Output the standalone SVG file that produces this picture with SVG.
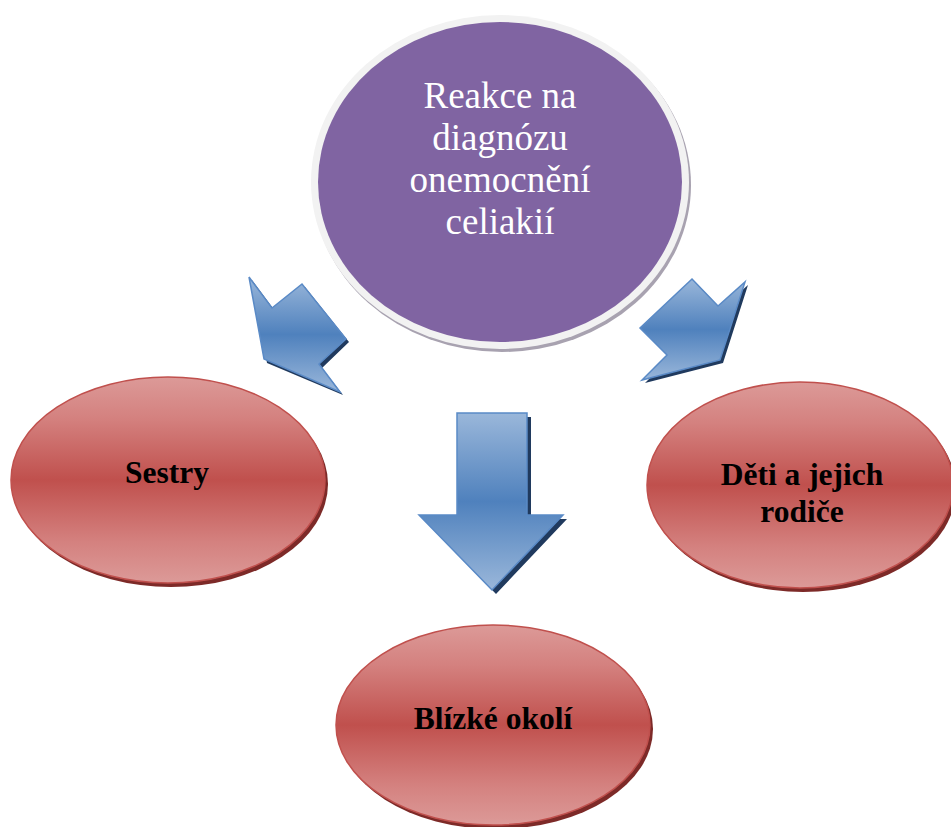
<svg xmlns="http://www.w3.org/2000/svg" width="951" height="827" viewBox="0 0 951 827">
  <style>
    .title { font-family: "Liberation Serif", "Times New Roman", serif; font-size: 37px; fill: #ffffff; text-anchor: middle; }
    .label { font-family: "Liberation Serif", "Times New Roman", serif; font-size: 31.5px; font-weight: bold; fill: #000000; text-anchor: middle; }
    .ell { fill: url(#redGrad); stroke: #c0504d; stroke-width: 1.5; }
    .ellShadow { fill: #7d2a28; }
    .arrow { fill: url(#blueGrad); stroke: #5a8ac6; stroke-width: 1.5; stroke-linejoin: miter; }
    .arrowShadow { fill: #203a5e; }
  </style>
  <defs>
    <linearGradient id="redGrad" x1="0" y1="0" x2="0" y2="1">
      <stop offset="0" stop-color="#dc9a98"/>
      <stop offset="0.2" stop-color="#d4817f"/>
      <stop offset="0.5" stop-color="#c0504d"/>
      <stop offset="0.8" stop-color="#d4817f"/>
      <stop offset="1" stop-color="#dc9a98"/>
    </linearGradient>
    <linearGradient id="blueGrad" x1="0" y1="0" x2="0" y2="1">
      <stop offset="0" stop-color="#9ab7da"/>
      <stop offset="0.5" stop-color="#4f81bd"/>
      <stop offset="1" stop-color="#9ab7da"/>
    </linearGradient>
    <linearGradient id="blueGradDown" x1="0" y1="0" x2="0" y2="1">
      <stop offset="0" stop-color="#9ab7da"/>
      <stop offset="0.5" stop-color="#4f81bd"/>
      <stop offset="1" stop-color="#9ab7da"/>
    </linearGradient>
  </defs>

  <!-- connectors: block arrows from the centre circle to the three groups -->
  <g id="connectors">
    <g id="arrow-left">
      <polygon class="arrowShadow" points="252,280 275,311 305,287 349,342 322,368 343,395 267,363"/>
      <polygon class="arrow" points="249,277 272,308 302,284 346,339 319,364 340,392 264,359"/>
    </g>
    <g id="arrow-right">
      <polygon class="arrowShadow" points="695,282 721,309 748,285 723,363 645,383 670,358 643,331"/>
      <polygon class="arrow" points="692,279 718,306 745,282 720,360 642,380 667,355 640,328"/>
    </g>
    <g id="arrow-down">
      <polygon class="arrowShadow" points="461,417 531,417 531,519 567,519 496,594 423,519 461,519"/>
      <polygon class="arrow" style="fill:url(#blueGradDown)" points="457,413 527,413 527,515 563,515 492,590 419,515 457,515"/>
    </g>
  </g>

  <!-- centre topic -->
  <g id="node-center">
    <ellipse cx="502" cy="185" rx="189" ry="167" fill="#a8a2b0"/>
    <ellipse cx="500" cy="182" rx="189" ry="167" fill="#f2f2f2"/>
    <ellipse cx="500" cy="182" rx="182" ry="160" fill="#8064a2"/>
    <text class="title" x="500" y="108">Reakce na</text>
    <text class="title" x="500" y="150">diagnózu</text>
    <text class="title" x="500" y="192">onemocnění</text>
    <text class="title" x="500" y="234">celiakií</text>
  </g>

  <g id="node-sestry">
    <ellipse class="ellShadow" cx="171" cy="484" rx="157" ry="103"/>
    <ellipse class="ell" cx="168" cy="480" rx="157" ry="103"/>
    <text class="label" x="167" y="483">Sestry</text>
  </g>

  <g id="node-deti">
    <ellipse class="ellShadow" cx="803" cy="489" rx="153" ry="103"/>
    <ellipse class="ell" cx="800" cy="485" rx="153" ry="103"/>
    <text class="label" x="802" y="485">Děti a jejich</text>
    <text class="label" x="802" y="522">rodiče</text>
  </g>

  <g id="node-okoli">
    <ellipse class="ellShadow" cx="496" cy="729" rx="157" ry="100"/>
    <ellipse class="ell" cx="493" cy="725" rx="157" ry="100"/>
    <text class="label" x="493" y="729">Blízké okolí</text>
  </g>
</svg>
